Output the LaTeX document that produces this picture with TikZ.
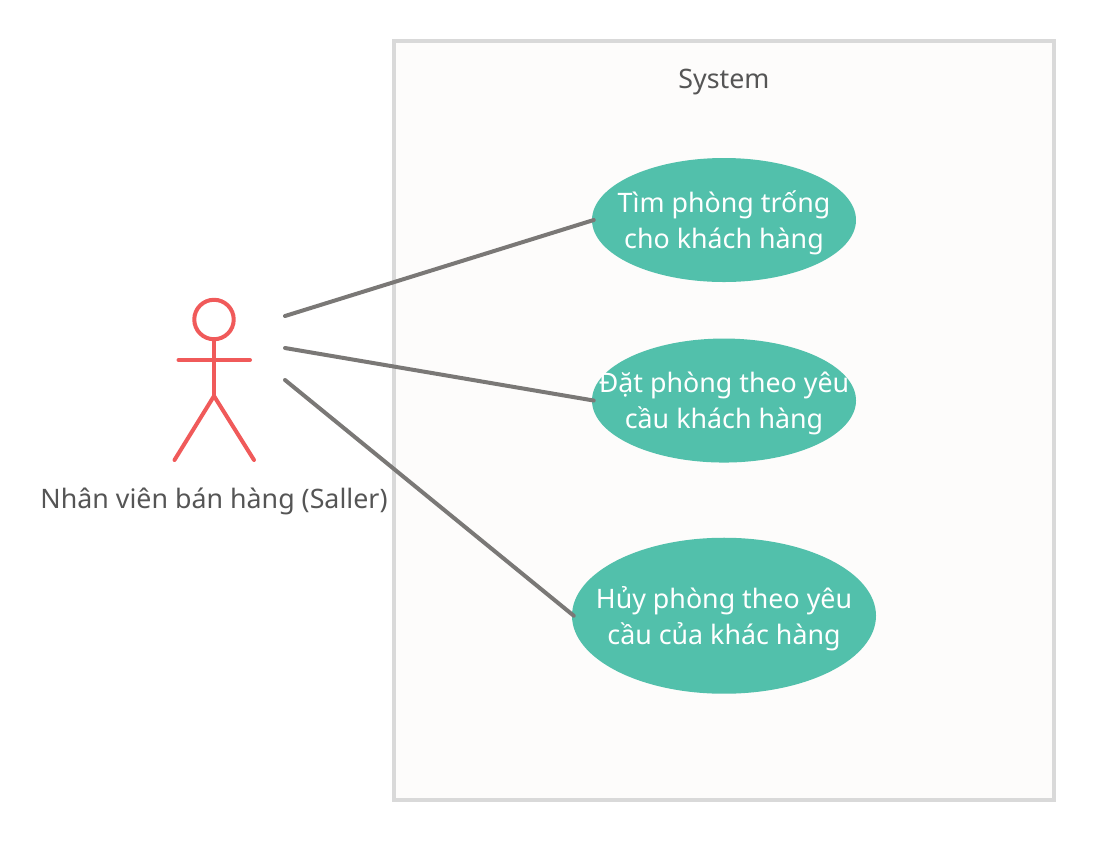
\documentclass[tikz,border=0pt]{standalone}
\usepackage{fontspec}
\setmainfont{Noto Sans}
\usetikzlibrary{positioning}
\usetikzlibrary{shapes.geometric}
\definecolor{boxfill}{HTML}{FDFCFB}
\definecolor{boxline}{HTML}{D9D9D9}
\definecolor{linkline}{HTML}{7A7876}
\definecolor{actorline}{HTML}{F05A5A}
\definecolor{casefill}{HTML}{52C0AB}
\definecolor{labeltext}{HTML}{555555}
\tikzset{
  usecase/.style={ellipse, fill=casefill, inner sep=0pt},
  usetext/.style={text=white, align=center, yshift=-2.2pt, font=\fontsize{20.1pt}{26.5pt}\selectfont},
  limb/.style={draw=actorline, line width=3pt, line cap=round},
  link/.style={draw=linkline, line width=3pt, line cap=round},
  plain/.style={text=labeltext, font=\fontsize{20.1pt}{26.5pt}\selectfont},
}

\begin{document}
\begin{tikzpicture}[x=0.75pt, y=-0.75pt]
  \useasboundingbox (0,0) rectangle (1095,840);

  % Riquadro del sistema
  \node [draw=boxline, fill=boxfill, line width=3pt, minimum width=495pt, minimum height=569.25pt, inner sep=0pt] (system) at (724,420.5) {};
  \node [plain] (title) at (724,82) {System};

  % Casi d'uso
  \node [usecase, minimum width=198pt, minimum height=93pt] (find) at (724,220) {};
  \node [usecase, minimum width=198pt, minimum height=93pt, below=42pt of find] (book) {};
  \node [usecase, minimum width=228pt, minimum height=117pt, below=56pt of book] (cancel) {};
  \node [usetext] (findtext) at (find) {Tìm phòng trống\\cho khách hàng};
  \node [usetext] (booktext) at (book) {Đặt phòng theo yêu\\cầu khách hàng};
  \node [usetext] (canceltext) at (cancel) {Hủy phòng theo yêu\\cầu của khác hàng};

  % Attore
  \node [draw=actorline, line width=3pt, circle, minimum size=29.6pt, inner sep=0pt] (head) at (214,319.5) {};
  \coordinate (hip) at (214,396);
  \coordinate (handl) at (178.5,360);
  \coordinate (handr) at (250,360);
  \coordinate (footl) at (174.5,460);
  \coordinate (footr) at (254,460);
  \node [plain] (actor) at (214,501) {Nhân viên bán hàng (Saller)};
  \draw [limb] (head.south) -- (hip);
  \draw [limb] (handl) -- (handr);
  \draw [limb] (footl) -- (hip) -- (footr);

  % Collegamenti
  \coordinate (from1) at (285,316);
  \coordinate (from2) at (285,348);
  \coordinate (from3) at (285,380);
  \draw [link] (from1) -- ([xshift=1.5pt]find.west);
  \draw [link] (from2) -- ([xshift=1.5pt]book.west);
  \draw [link] (from3) -- ([xshift=1.5pt]cancel.west);
\end{tikzpicture}
\end{document}
